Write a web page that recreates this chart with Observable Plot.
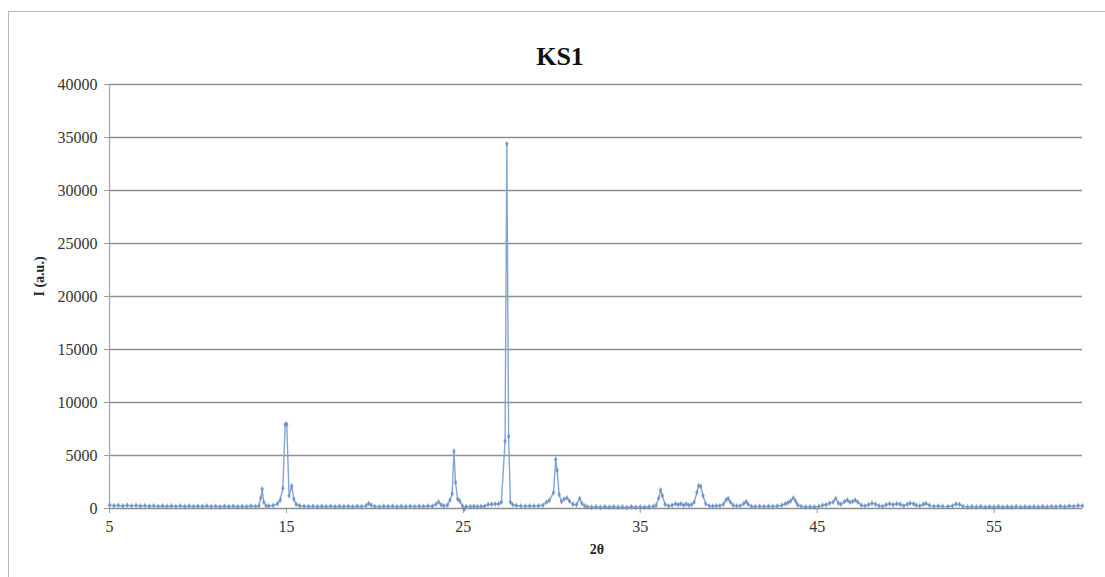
<!DOCTYPE html>
<html>
<head>
<meta charset="utf-8">
<script src="https://cdn.jsdelivr.net/npm/d3@7"></script>
<script src="https://cdn.jsdelivr.net/npm/@observablehq/plot@0.6"></script>
<style>
  html, body { margin: 0; padding: 0; background: #fff; }
  #wrap { position: relative; width: 1105px; height: 577px; overflow: hidden; }
  #frame { position: absolute; left: 8px; top: 11px; right: -2px; bottom: -2px;
           border-left: 1px solid #b8b8b8; border-top: 1px solid #b8b8b8; }
  #chart { position: absolute; left: 0; top: 0; }
</style>
</head>
<body>
<div id="wrap"><div id="frame"></div><div id="chart"></div></div>
<script>
// KS1 powder diffraction pattern: [2θ (deg), intensity (a.u.)]
const lowAngle = [
  [5.0,320],[5.25,260],[5.5,300],[5.75,240],[6.0,310],[6.25,250],[6.5,290],[6.75,230],
  [7.0,270],[7.25,210],[7.5,250],[7.75,200],[8.0,240],[8.25,190],[8.5,230],[8.75,200],
  [9.0,250],[9.25,190],[9.5,230],[9.75,180],[10.0,220],[10.25,190],[10.5,230],[10.75,180],
  [11.0,220],[11.25,170],[11.5,210],[11.75,180],[12.0,220],[12.25,170],[12.5,210],[12.75,180],
  [13.0,230],[13.25,200],[13.45,260],[13.55,1000],[13.63,1850],[13.72,600],[13.85,250],
  [14.0,230],[14.25,280],[14.5,450],[14.65,800],[14.8,1900],[14.93,7950],[15.02,7950],
  [15.15,1200],[15.3,2150],[15.42,900],[15.55,400],[15.75,260],[16.0,220],[16.25,180],
  [16.5,220],[16.75,170],[17.0,210],[17.25,180],[17.5,220],[17.75,170],[18.0,210],[18.25,180],
  [18.5,220],[18.75,170],[19.0,210],[19.25,180],[19.5,260],[19.65,480],[19.8,300],[20.0,200],
  [20.25,170],[20.5,210],[20.75,180],[21.0,220],[21.25,170],[21.5,210],[21.75,180],[22.0,220],
  [22.25,180],[22.5,220],[22.75,190],[23.0,230],[23.25,220],[23.45,400],[23.6,620],[23.75,350],
  [23.9,250]
];
const mainPeaks = [
  [24.1,300],[24.25,800],[24.37,1400],[24.47,5400],[24.56,2450],[24.68,900],[24.8,700],
  [24.95,250],[25.05,-80],[25.15,200],[25.4,180],[25.6,210],[25.8,180],[26.0,200],[26.2,210],
  [26.4,380],[26.6,400],[26.8,420],[27.0,430],[27.15,600],[27.36,6350],[27.46,34400],
  [27.56,6800],[27.66,600],[27.8,350],[28.0,280],[28.25,240],[28.5,220],[28.75,250],[29.0,230],
  [29.25,260],[29.5,300],[29.7,600],[29.86,750],[30.1,1500],[30.22,4650],[30.3,3600],
  [30.42,1300],[30.55,650],[30.7,900],[30.86,1000],[31.0,700],[31.2,400],[31.4,350],
  [31.58,950],[31.7,500],[31.85,250]
];
const highAngle = [
  [32.0,160],[32.25,120],[32.5,170],[32.75,110],[33.0,160],[33.25,120],[33.5,170],[33.75,110],
  [34.0,150],[34.25,100],[34.5,160],[34.75,110],[35.0,150],[35.25,120],[35.5,170],[35.75,200],
  [35.9,300],[36.05,1000],[36.15,1750],[36.25,1200],[36.4,400],[36.6,250],[36.8,300],[37.0,450],
  [37.15,350],[37.3,450],[37.45,300],[37.6,420],[37.75,300],[37.9,350],[38.05,600],[38.2,1500],
  [38.3,2150],[38.42,2100],[38.55,1200],[38.7,450],[38.9,250],[39.1,220],[39.3,260],[39.5,250],
  [39.7,400],[39.85,800],[39.97,950],[40.1,600],[40.25,300],[40.45,250],[40.65,250],[40.85,450],
  [40.98,650],[41.1,400],[41.3,200],[41.5,180],[41.75,220],[42.0,180],[42.25,220],[42.5,200],
  [42.75,240],[43.0,300],[43.2,450],[43.35,550],[43.5,700],[43.65,1000],[43.78,700],[43.9,350],
  [44.1,200],[44.35,150],[44.6,160],[44.85,140],[45.1,200],[45.3,300],[45.5,350],[45.7,500],
  [45.9,600],[46.05,950],[46.2,500],[46.35,400],[46.55,650],[46.7,800],[46.85,600],[47.0,650],
  [47.15,800],[47.3,600],[47.5,300],[47.7,250],[47.9,350],[48.1,500],[48.3,400],[48.5,250],
  [48.7,200],[48.9,350],[49.1,450],[49.3,350],[49.5,450],[49.7,400],[49.9,250],[50.1,400],
  [50.25,500],[50.45,450],[50.6,300],[50.8,250],[51.0,400],[51.15,480],[51.35,300],[51.6,200],
  [51.85,230],[52.1,200],[52.4,180],[52.65,250],[52.85,430],[53.05,380],[53.25,200],[53.5,150],
  [53.75,180],[54.0,140],[54.25,180],[54.5,130],[54.75,170],[55.0,140],[55.25,180],[55.5,130],
  [55.75,170],[56.0,140],[56.25,180],[56.5,130],[56.75,170],[57.0,140],[57.25,180],[57.5,140],
  [57.75,190],[58.0,150],[58.25,200],[58.5,160],[58.75,220],[59.0,170],[59.25,230],[59.5,200],
  [59.75,280],[60.0,250]
];

const xTicks = [5, 15, 25, 35, 45, 55];
const yTicks = [0, 5000, 10000, 15000, 20000, 25000, 30000, 35000, 40000];
const title = "KS1";
const xLabel = "2θ";
const yLabel = "I (a.u.)";

const pattern = [...lowAngle, ...mainPeaks, ...highAngle].map(([t, i]) => ({t, i}));

const serif = "'Liberation Serif', 'DejaVu Serif', serif";
const lineColor = "#82a6d4";
const dotColor = "#6a90c2";

const chart = Plot.plot({
  width: 1105,
  height: 577,
  marginLeft: 109,
  marginRight: 23,
  marginTop: 84,
  marginBottom: 69,
  style: {background: "transparent", fontFamily: serif},
  x: {domain: [5, 60]},
  y: {domain: [0, 40000]},
  marks: [
    Plot.gridY(yTicks, {stroke: "#8e8e8e", strokeOpacity: 1, strokeWidth: 1.3}),
    Plot.ruleX([5], {stroke: "#a8a8a8", strokeWidth: 1.3}),
    Plot.axisY(yTicks, {
      tickSize: 5, tickPadding: 7, stroke: "#9a9a9a", fill: "#333",
      fontSize: 16, fontWeight: 500, label: null, tickFormat: d => String(d)
    }),
    Plot.axisX(xTicks, {
      tickSize: 5, tickPadding: 7, stroke: "#9a9a9a", fill: "#333",
      fontSize: 16, fontWeight: 500, label: null, tickFormat: d => String(d)
    }),
    Plot.line(pattern, {x: "t", y: "i", stroke: lineColor, strokeWidth: 1.4}),
    Plot.dot(pattern, {x: "t", y: "i", r: 1.8, fill: dotColor, fillOpacity: 0.85, stroke: "none", symbol: "diamond"}),
    Plot.text([title], {
      frameAnchor: "top", dx: -36, dy: -38, fontSize: 26, fontWeight: "bold",
      fill: "#111", fontFamily: serif
    }),
    Plot.text([yLabel], {
      frameAnchor: "left", dx: -70, rotate: -90, fontSize: 14, fontWeight: "bold",
      fill: "#222", fontFamily: serif
    }),
    Plot.text([xLabel], {
      frameAnchor: "bottom", dx: 1, dy: 45, fontSize: 14, fontWeight: "bold",
      fill: "#222", fontFamily: serif
    })
  ]
});

document.getElementById("chart").appendChild(chart);
</script>
</body>
</html>
